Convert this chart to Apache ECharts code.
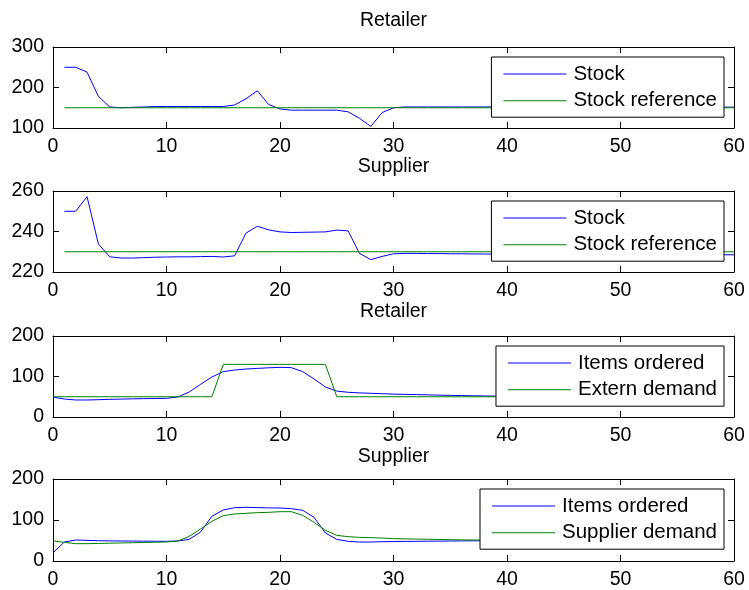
<!DOCTYPE html>
<html>
<head>
<meta charset="utf-8">
<title>Retailer / Supplier simulation</title>
<script src="https://cdn.jsdelivr.net/npm/echarts@6/dist/echarts.min.js"></script>
<style>
  html, body { margin: 0; padding: 0; background: #fff; }
  #chart { width: 749px; height: 590px; }
</style>
</head>
<body>
<div id="chart"></div>
<script>
// Panel titles and legend names
const panelTitles = ['Retailer', 'Supplier', 'Retailer', 'Supplier'];
const legendNames = [
  ['Stock', 'Stock reference'],
  ['Stock', 'Stock reference'],
  ['Items ordered', 'Extern demand'],
  ['Items ordered', 'Supplier demand']
];

// First time step of each panel (stock panels start at 1, order panels at 0)
const firstStep = [1, 1, 0, 0];

// X axis ticks
const xTicks = { min: 0, max: 60, interval: 10 };
// Y axis ticks per panel
const yTicks = [
  { min: 100, max: 300, interval: 100 },
  { min: 220, max: 260, interval: 20 },
  { min: 0, max: 200, interval: 100 },
  { min: 0, max: 200, interval: 100 }
];

// Retailer stock, steps 1..60
const retailerStock = [
  250, 250, 238, 178, 152, 150, 151, 152, 153, 153,
  153, 153, 153, 153, 153, 157, 172, 192, 158, 147,
  144, 144, 144, 144, 144, 140, 124, 104, 138, 150,
  152, 152, 152, 152, 152, 152, 152, 152, 152, 152,
  152, 152, 152, 152, 152, 151.5, 151.5, 151.5, 151.5, 151.5,
  151.5, 151.5, 151.5, 151.5, 151.5, 151.5, 151.5, 151.5, 151.5, 151.5
];
const retailerStockRef = [
  150, 150, 150, 150, 150, 150, 150, 150, 150, 150,
  150, 150, 150, 150, 150, 150, 150, 150, 150, 150,
  150, 150, 150, 150, 150, 150, 150, 150, 150, 150,
  150, 150, 150, 150, 150, 150, 150, 150, 150, 150,
  150, 150, 150, 150, 150, 150, 150, 150, 150, 150,
  150, 150, 150, 150, 150, 150, 150, 150, 150, 150
];

// Supplier stock, steps 1..60
const supplierStock = [
  250, 250, 257.2, 233.8, 227.5, 226.9, 226.9, 227.1, 227.3, 227.4,
  227.5, 227.5, 227.6, 227.7, 227.4, 228, 239.2, 242.6, 240.8, 239.8,
  239.5, 239.6, 239.7, 239.8, 240.7, 240.3, 229.2, 226.1, 227.7, 229.0,
  229.2, 229.2, 229.1, 229.1, 229.0, 229.0, 228.9, 228.9, 228.8, 228.8,
  228.8, 228.7, 228.7, 228.7, 228.7, 228.6, 228.6, 228.6, 228.6, 228.6,
  228.6, 228.5, 228.5, 228.5, 228.5, 228.5, 228.5, 228.5, 228.5, 228.5
];
const supplierStockRef = [
  230, 230, 230, 230, 230, 230, 230, 230, 230, 230,
  230, 230, 230, 230, 230, 230, 230, 230, 230, 230,
  230, 230, 230, 230, 230, 230, 230, 230, 230, 230,
  230, 230, 230, 230, 230, 230, 230, 230, 230, 230,
  230, 230, 230, 230, 230, 230, 230, 230, 230, 230,
  230, 230, 230, 230, 230, 230, 230, 230, 230, 230
];

// Retailer orders vs. external demand, steps 0..59
const retailerOrdered = [
  49, 44.4, 42, 42, 42.8, 43.6, 44.2, 44.8, 45.3, 45.7,
  46, 49.4, 61.7, 80.7, 98.8, 112, 116, 118.5, 120, 121.5,
  122.6, 121.8, 112, 94, 74, 64, 61, 59.5, 58.5, 57.5,
  56.5, 56, 55.3, 54.7, 54, 53.4, 52.9, 52.4, 52, 51.6,
  51.2, 50.9, 50.7, 50.5, 50.4, 50.3, 50.2, 50.1, 50.1, 50,
  50, 50, 50, 50, 50, 50, 50, 50, 50, 50
];
const externDemand = [
  50, 50, 50, 50, 50, 50, 50, 50, 50, 50,
  50, 50, 50, 50, 50, 130, 130, 130, 130, 130,
  130, 130, 130, 130, 130, 50, 50, 50, 50, 50,
  50, 50, 50, 50, 50, 50, 50, 50, 50, 50,
  50, 50, 50, 50, 50, 50, 50, 50, 50, 50,
  50, 50, 50, 50, 50, 50, 50, 50, 50, 50
];

// Supplier orders vs. demand coming from the retailer, steps 0..59
const supplierOrdered = [
  20, 46.3, 51.2, 50.4, 49.5, 49, 48.8, 48.6, 48.4, 48.2,
  48, 48.8, 52.8, 70.7, 109, 124.4, 130, 131, 130.3, 129.5,
  129.3, 127.6, 123.6, 106.5, 68.3, 52.8, 48, 46.3, 46.3, 47,
  47.5, 47.8, 48, 48.3, 48.5, 48.8, 49, 49.2, 49.4, 49.6,
  49.7, 49.8, 49.9, 49.9, 50, 50, 50, 50, 50, 50,
  50, 50, 50, 50, 50, 50, 50, 50, 50, 50
];
const supplierDemand = [
  49, 45.5, 42.3, 42.3, 42.8, 43.4, 44, 44.6, 45.2, 45.8,
  46.3, 48.8, 60, 78, 96.7, 110.6, 114.6, 116.3, 117.9, 118.7,
  120.3, 120.3, 111.4, 94.3, 74.8, 62.6, 59.3, 57.7, 57, 56,
  54.5, 54, 53.5, 53, 52.5, 52, 51.6, 51.2, 50.9, 50.6,
  50.4, 50.3, 50.2, 50.1, 50.1, 50, 50, 50, 50, 50,
  50, 50, 50, 50, 50, 50, 50, 50, 50, 50
];

const panelData = [
  [retailerStock, retailerStockRef],
  [supplierStock, supplierStockRef],
  [retailerOrdered, externDemand],
  [supplierOrdered, supplierDemand]
];

const BLUE = '#0000ff';
const GREEN = '#008000';
const FONT = '"Liberation Sans", Arial, Helvetica, sans-serif';

// Plot box geometry (pixels)
const plotLeft = 53;
const plotRight = 15;
const plotTops = [47, 191, 336, 479];
const plotHeights = [81, 81, 81, 82];
const titleTops = [10.5, 156.5, 301.5, 446.5];

// Legend key: a plain horizontal stroke, no marker
const LINE_KEY = 'path://M0,0 H63 V1 H0 Z';

const chart = echarts.init(document.getElementById('chart'), null, { renderer: 'canvas' });

const grids = [], xAxes = [], yAxes = [], series = [], legends = [], titles = [];

const axisLineStyle = { show: true, onZero: false, lineStyle: { color: '#000', width: 1 } };
const tickStyle = { show: true, inside: true, length: 6, lineStyle: { color: '#000', width: 1 } };
const labelStyle = { color: '#000', fontFamily: FONT, fontSize: 19.5, margin: 9 };

for (let p = 0; p < 4; p++) {
  grids.push({
    left: plotLeft, right: plotRight, top: plotTops[p], height: plotHeights[p],
    show: false, containLabel: false
  });

  // bottom & top x axes (box with ticks on both sides)
  xAxes.push({
    type: 'value', gridIndex: p, position: 'bottom',
    min: xTicks.min, max: xTicks.max, interval: xTicks.interval,
    axisLine: axisLineStyle, axisTick: tickStyle,
    axisLabel: Object.assign({ show: true }, labelStyle),
    splitLine: { show: false }
  });
  xAxes.push({
    type: 'value', gridIndex: p, position: 'top',
    min: xTicks.min, max: xTicks.max, interval: xTicks.interval,
    axisLine: axisLineStyle, axisTick: tickStyle,
    axisLabel: { show: false }, splitLine: { show: false }
  });

  // left & right y axes
  yAxes.push({
    type: 'value', gridIndex: p, position: 'left',
    min: yTicks[p].min, max: yTicks[p].max, interval: yTicks[p].interval,
    axisLine: axisLineStyle, axisTick: tickStyle,
    axisLabel: Object.assign({ show: true }, labelStyle),
    splitLine: { show: false }
  });
  yAxes.push({
    type: 'value', gridIndex: p, position: 'right',
    min: yTicks[p].min, max: yTicks[p].max, interval: yTicks[p].interval,
    axisLine: axisLineStyle, axisTick: tickStyle,
    axisLabel: { show: false }, splitLine: { show: false }
  });

  const colors = [BLUE, GREEN];
  for (let s = 0; s < 2; s++) {
    const vals = panelData[p][s];
    series.push({
      type: 'line',
      name: legendNames[p][s],
      xAxisIndex: p * 2,
      yAxisIndex: p * 2,
      data: vals.map((v, i) => [firstStep[p] + i, v]),
      symbol: 'none',
      smooth: false,
      animation: false,
      color: colors[s],
      lineStyle: { color: colors[s], width: 1 },
      z: 2 + s
    });
  }

  legends.push({
    orient: 'vertical',
    right: 25,
    top: plotTops[p] + 10,
    data: legendNames[p].map((n, k) => ({ name: n, icon: LINE_KEY, itemStyle: { color: colors[k] } })),
    itemWidth: 63,
    itemHeight: 20,
    itemGap: 5.7,
    symbolKeepAspect: true,
    padding: [6.5, 7, 6, 12],
    backgroundColor: '#fff',
    borderColor: '#000',
    borderWidth: 1,
    borderRadius: 0,
    selectedMode: false,
    itemStyle: { borderWidth: 0 },
    lineStyle: { width: 0 },
    textStyle: { color: '#000', fontFamily: FONT, fontSize: 20.5, padding: [0, 0, 0, 2] },
    z: 10
  });

  titles.push({
    text: panelTitles[p],
    left: plotLeft + (749 - plotLeft - plotRight) / 2,
    textAlign: 'center',
    top: titleTops[p],
    padding: 0,
    textStyle: { color: '#000', fontFamily: FONT, fontSize: 19.5, fontWeight: 'normal' }
  });
}

chart.setOption({
  backgroundColor: '#fff',
  animation: false,
  title: titles,
  grid: grids,
  xAxis: xAxes,
  yAxis: yAxes,
  legend: legends,
  series: series
});
</script>
</body>
</html>
